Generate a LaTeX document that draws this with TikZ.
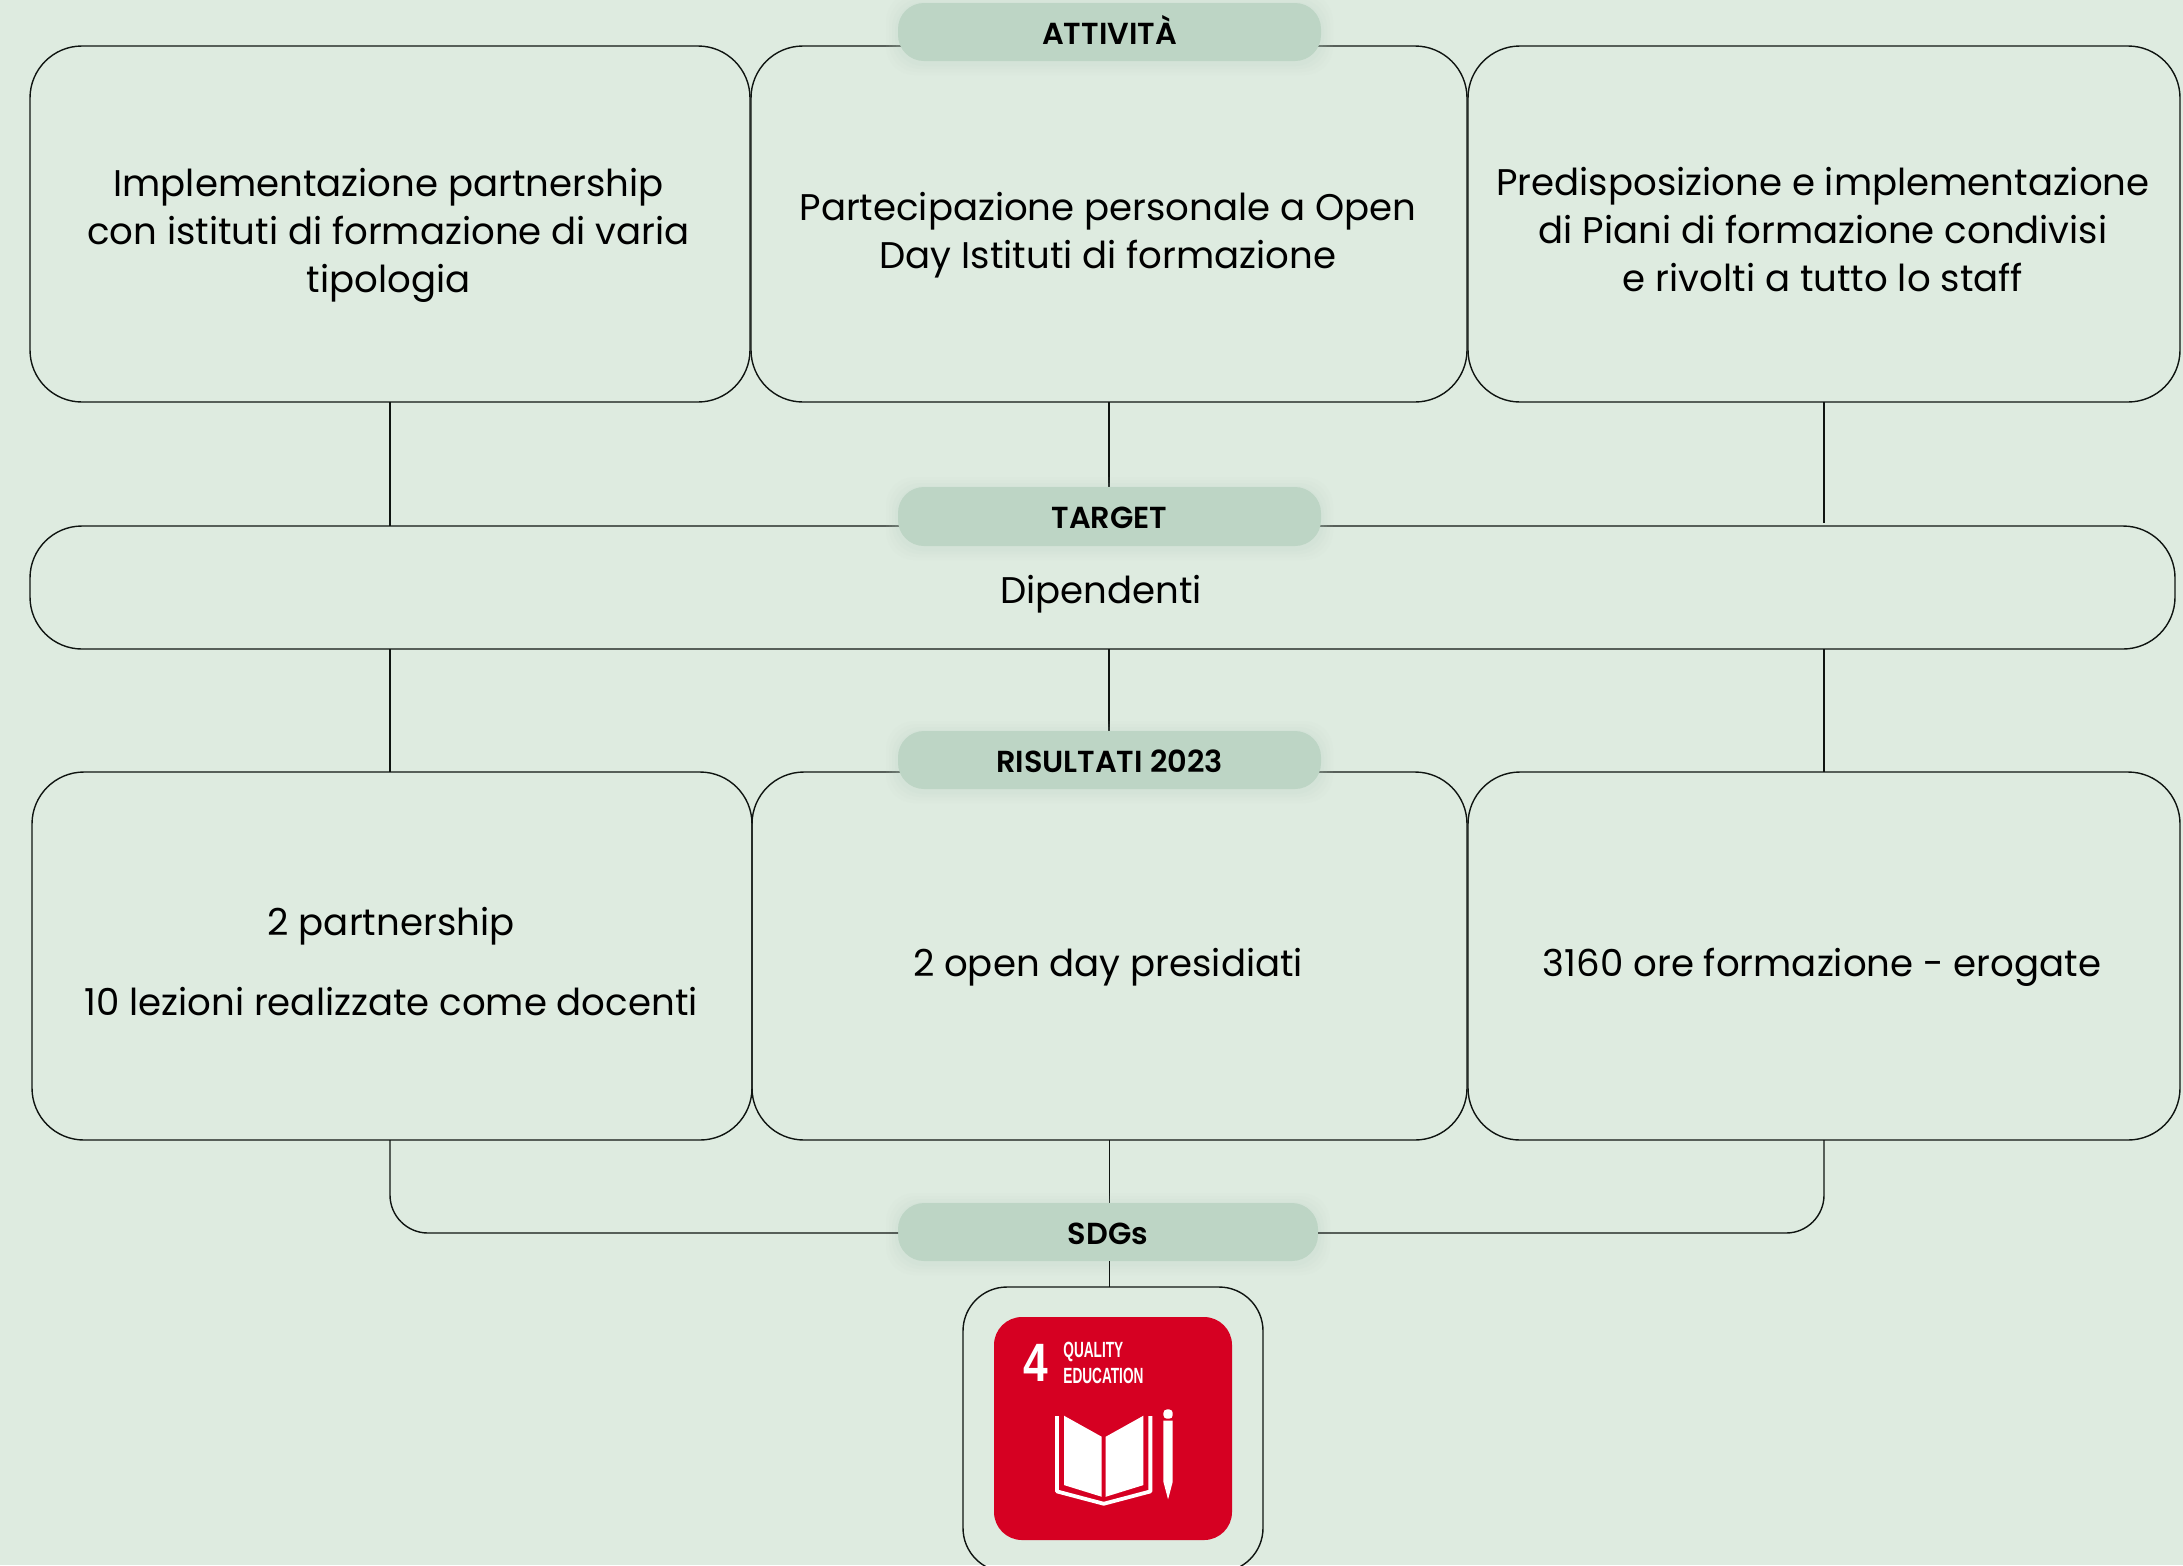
\documentclass[tikz,border=0pt]{standalone}
\usepackage{fontspec}
\setmainfont{Poppins}
\newfontfamily\semib{Poppins SemiBold}
\newfontfamily\iconfont{Liberation Sans}
\usetikzlibrary{calc}
\definecolor{bgc}{HTML}{DEEBE0}
\definecolor{pillc}{HTML}{BDD5C5}
\definecolor{sdgred}{HTML}{D60022}
\definecolor{ink}{HTML}{0F1411}
\tikzset{
  x=0.5pt,y=-0.5pt,
  rbox/.style={draw=ink,line width=0.7pt,rectangle,rounded corners=26pt,inner sep=0pt,outer sep=0pt},
  wire/.style={draw=ink,line width=0.7pt},
  pillbox/.style={rectangle,fill=pillc,rounded corners=13pt,inner sep=0pt,outer sep=0pt},
  pilltext/.style={inner sep=0pt,text=black,text height=10pt,text depth=0pt,font=\semib\fontsize{15.2}{18}\selectfont},
  body/.style={align=center,inner sep=0pt,text=black,font=\fontsize{18.55}{24}\selectfont},
  ico/.style={inner sep=0pt,text=white,font=\iconfont\bfseries},
}
\newcommand{\bx}[5]{\node[rbox,minimum width={(#4-#2)*0.5pt},minimum height={(#5-#3)*0.5pt}] (#1) at ({(#2+#4)/2},{(#3+#5)/2}) {};}
\newcommand{\pl}[6]{%
  \foreach \e/\o in {12/0.05,9/0.06,6/0.07,3/0.08}{
    \fill[pillc,opacity=\o,rounded corners=14pt] ({#2-\e},{#3-\e+2}) rectangle ({#4+\e},{#5+\e+2});
  }
  \node[pillbox,minimum width={(#4-#2)*0.5pt},minimum height={(#5-#3)*0.5pt}] (#1) at ({(#2+#4)/2},{(#3+#5)/2}) {};
  \node[pilltext] at ($(#1.center)+(0,2)$) {#6};}
\begin{document}
\begin{tikzpicture}
\useasboundingbox (0,0) rectangle (2183,1565);
\clip (0,0) rectangle (2183,1565);
\fill[bgc] (0,0) rectangle (2183,1565);
% boxes
\bx{a1}{30}{46}{750}{402}
\bx{a2}{751}{46}{1467}{402}
\bx{a3}{1468}{46}{2180}{402}
\node[rbox,rounded corners=26pt,minimum width=1072.5pt,minimum height=61.5pt] (tg) at (1102.5,587.5) {};
\bx{r1}{32}{772}{752}{1140}
\bx{r2}{752}{772}{1467}{1140}
\bx{r3}{1468}{772}{2180}{1140}
\node[rbox,rounded corners=22pt,minimum width=150pt,minimum height=142.5pt] (sb) at (1113,1429.5) {};
\coordinate (busy) at (0,1233);
% connectors
\draw[wire] (a1.south) -- (a1.south |- tg.north);
\draw[wire] (a3.south) -- ($(a3.south |- tg.north)+(0,-3)$);
\draw[wire] (a2.south) -- (a2.south |- tg.north);
\draw[wire] (a1.south |- tg.south) -- (a1.south |- r1.north);
\draw[wire] (a2.south |- tg.south) -- (a2.south |- r2.north);
\draw[wire] (a3.south |- tg.south) -- (a3.south |- r3.north);
\draw[wire] (r2.south) -- (r2.south |- busy);
% pills
\pl{pa}{898}{3}{1321}{61}{ATTIVITÀ}
\pl{pt}{898}{487}{1321}{546}{TARGET}
\pl{pr}{898}{731}{1321}{789}{RISULTATI 2023}
\pl{ps}{898}{1203}{1318}{1261}{SDGs}
\draw[wire,rounded corners=19pt] (a1.south |- r1.south) -- (a1.south |- busy) -- (ps.west |- busy);
\draw[wire,rounded corners=19pt] (a3.south |- r3.south) -- (a3.south |- busy) -- (ps.east |- busy);
\draw[wire] (ps.south -| r2.south) -- (r2.south |- sb.north);
% texts
\node[body] (ta1) at (388.5,235.5) {Implementazione partnership\\con istituti di formazione di varia\\tipologia};
\node[body] (ta2) at (1108,235.5) {Partecipazione personale a Open\\Day Istituti di formazione};
\node[body] (ta3) at (1823,230) {Predisposizione e implementazione\\di Piani di formazione condivisi\\e rivolti a tutto lo staff};
\node[body] (tt) at (1101,594) {Dipendenti};
\node[body] (tr1) at (391,962) {2 partnership\\[16pt]10 lezioni realizzate come docenti};
\node[body] (tr2) at (1108,967) {2 open day presidiati};
\node[body] (tr3) at (1822,967) {3160 ore formazione - erogate};
% SDG icon
\node[rectangle,fill=sdgred,rounded corners=14pt,minimum width=119pt,minimum height=111.5pt,inner sep=0pt] (sdg) at (1113,1428.5) {};
\node[ico,font=\iconfont\bfseries\fontsize{27}{27}\selectfont] (n4) at (1035.5,1363) {\scalebox{0.82}[1]{4}};
\node[ico,anchor=west,font=\iconfont\bfseries\fontsize{11}{11}\selectfont] (q1) at (1063,1352) {\scalebox{0.62}[1]{QUALITY}};
\node[ico,anchor=west,font=\iconfont\bfseries\fontsize{11}{11}\selectfont] (q2) at (1063,1375.5) {\scalebox{0.62}[1]{EDUCATION}};
\begin{scope}[shift={(930,1180)},x=0.1667pt,y=-0.1667pt]
\fill[white] (402,707) -- (515,770) -- (515,950) -- (402,915) -- cycle;
\fill[white] (527,770) -- (640,707) -- (640,915) -- (527,950) -- cycle;
\draw[white,line width=1.9pt,line join=round] (381,708) -- (381,934) -- (521,971) -- (661,934) -- (661,708);
\fill[white] (700,722) -- (728,722) -- (728,905) -- (714,958) -- (700,905) -- cycle;
\fill[white,rounded corners=1.8pt] (700,716) -- (700,688) -- (728,688) -- (728,716) -- cycle;
\end{scope}
\end{tikzpicture}
\end{document}
